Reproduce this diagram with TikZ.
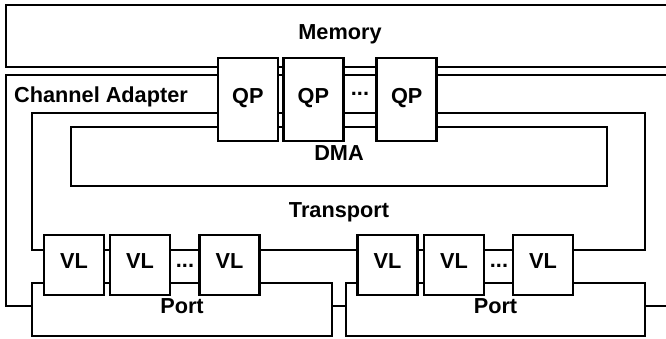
\documentclass[tikz,border=0pt]{standalone}
\usepackage{fontspec}
\setmainfont{Liberation Sans}
\begin{document}
\begin{tikzpicture}[x=1pt,y=-1pt,
  box/.style={draw, line width=2.5pt, fill=white, inner sep=0pt, outer sep=0pt,
    font=\fontsize{21.7}{24}\selectfont\bfseries, text height=0.716em, text depth=0pt},
  qpbox/.style={box, minimum width=60pt, minimum height=83pt},
  vlbox/.style={box, minimum width=60pt, minimum height=60pt},
  lbl/.style={inner sep=0pt, font=\fontsize{21.7}{24}\selectfont\bfseries},
]
\useasboundingbox (0,0) rectangle (666,338);
\clip (0,0) rectangle (666,338);
\fill[white] (0,0) rectangle (666,338);
% large boxes
\node[box, minimum width=668pt, minimum height=62pt] (mem) at (340,36) {Memory};
\node[box, minimum width=674pt, minimum height=231pt] (ca) at (343,190.5) {};
\node[lbl, anchor=base west] (calbl) at (14,102) {Channel Adapter};
\node[box, minimum width=613pt, minimum height=137pt] (tr) at (338.5,181.5) {};
\node[lbl, anchor=base] (trlbl) at (339,217) {Transport};
\node[box, minimum width=536pt, minimum height=59pt] (dma) at (339,156.5) {DMA};
% ports
\node[box, minimum width=300pt, minimum height=53pt] (p1) at (182,309.5) {Port};
\node[box, minimum width=299pt, minimum height=53pt] (p2) at (495.5,309.5) {Port};
% QPs
\node[qpbox] (qp1) at (247.8,99.5) {QP};
\node[qpbox] (qp2) at (313.3,99.5) {QP};
\node[qpbox] (qp3) at (406.7,99.5) {QP};
\node[lbl, anchor=base] (qpdots) at (360,95.5) {...};
% VLs
\node[vlbox] (vl1) at (74,265) {VL};
\node[vlbox] (vl2) at (140,265) {VL};
\node[vlbox] (vl3) at (229.5,265) {VL};
\node[lbl, anchor=base] (vldotsa) at (185,267.5) {...};
\node[vlbox] (vl4) at (387.5,265) {VL};
\node[vlbox] (vl5) at (454,265) {VL};
\node[vlbox] (vl6) at (543,265) {VL};
\node[lbl, anchor=base] (vldotsb) at (499,267.5) {...};
\end{tikzpicture}
\end{document}
